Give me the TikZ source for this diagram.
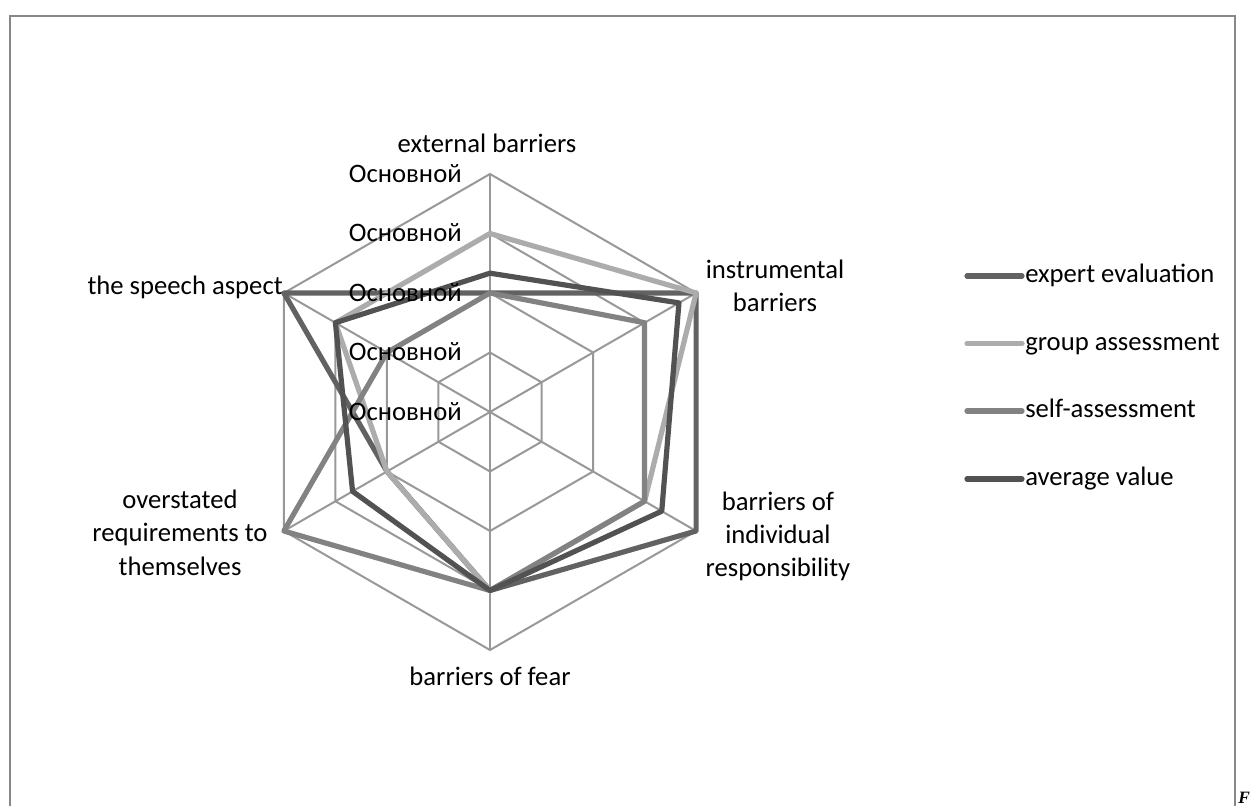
\documentclass[tikz,border=0pt]{standalone}
\usepackage{fontspec}
\setmainfont{Carlito}
\newfontfamily\figfont{Liberation Serif}
\usepackage{tikz}
\usetikzlibrary{calc}
\definecolor{expertcol}{RGB}{98,98,98}
\definecolor{groupcol}{RGB}{172,172,172}
\definecolor{selfcol}{RGB}{130,130,130}
\definecolor{avgcol}{RGB}{82,82,82}
\definecolor{gridcol}{RGB}{152,152,152}
\definecolor{framecol}{RGB}{136,136,136}

\begin{document}
\begin{tikzpicture}[x=0.75pt,y=0.75pt]
    \useasboundingbox (-490,-394) rectangle (762,412);
    \begin{scope}[font=\fontsize{20}{25}\selectfont, inner sep=0pt,
        gridline/.style={gridcol, line width=1.5pt},
        series/.style={line width=3.9pt, line join=round}]

      % defines
      \pgfmathsetmacro\Rad{238} % outer radius
      \pgfmathsetmacro\Lvl{\Rad/4} % one grid step

      % frame of the chart area
      \draw[framecol, line width=2.2pt] (-480,-420) rectangle (745,396);

      % grid hexagons and spokes
      \foreach \k in {1,...,4}
        \draw[gridline] (90:\k*\Lvl) -- (30:\k*\Lvl) -- (-30:\k*\Lvl) -- (-90:\k*\Lvl) -- (-150:\k*\Lvl) -- (150:\k*\Lvl) -- cycle;
      \foreach \a in {90,30,-30,-90,-150,150}
        \draw[gridline] (0,0) -- (\a:\Rad);

      % axis labels (base = last line)
      \node[anchor=base] (EXT) at (-3,259) {external barriers};
      \node[anchor=base, align=center] (INS) at (285,100.3) {instrumental\\barriers};
      \node[anchor=base, align=center] (IND) at (288,-164.7) {barriers of\\individual\\responsibility};
      \node[anchor=base] (FEAR) at (0,-273) {barriers of fear};
      \node[anchor=base, align=center] (OVR) at (-310,-163) {overstated\\requirements to\\themselves};
      \node[anchor=base east] (SPE) at (-207,117) {the speech aspect};

      % data lines
      \draw[series, expertcol] (90:2*\Lvl) -- (30:4*\Lvl) -- (-30:4*\Lvl) -- (-90:3*\Lvl) -- (-150:2*\Lvl) -- (150:4*\Lvl) -- cycle;
      \draw[series, groupcol] (90:3*\Lvl) -- (30:4*\Lvl) -- (-30:3*\Lvl) -- (-90:3*\Lvl) -- (-150:2*\Lvl) -- (150:3*\Lvl) -- cycle;
      \draw[series, selfcol] (90:2*\Lvl) -- (30:3*\Lvl) -- (-30:3*\Lvl) -- (-90:3*\Lvl) -- (-150:4*\Lvl) -- (150:2*\Lvl) -- cycle;
      \draw[series, avgcol] (90:2.333*\Lvl) -- (30:3.667*\Lvl) -- (-30:3.333*\Lvl) -- (-90:3*\Lvl) -- (-150:2.667*\Lvl) -- (150:3*\Lvl) -- cycle;

      % value labels on the axis, over the lines
      \foreach \k in {0,...,4}
        \node[anchor=base east] (tick\k) at (-28,{\k*\Lvl-8.3}) {Основной};

      % legend
      \coordinate (LA1) at (477,136);
      \coordinate (LB1) at (532,136);
      \coordinate (LA2) at (477,68.5);
      \coordinate (LB2) at (532,68.5);
      \coordinate (LA3) at (477,1);
      \coordinate (LB3) at (532,1);
      \coordinate (LA4) at (477,-67);
      \coordinate (LB4) at (532,-67);
      \draw[series, line cap=round, expertcol] (LA1) -- (LB1);
      \draw[series, line cap=round, groupcol] (LA2) -- (LB2);
      \draw[series, line cap=round, selfcol] (LA3) -- (LB3);
      \draw[series, line cap=round, avgcol] (LA4) -- (LB4);
      \node[anchor=base west] (LEG1) at (535,129) {expert evaluation};
      \node[anchor=base west] (LEG2) at (535,61.5) {group assessment};
      \node[anchor=base west] (LEG3) at (535,-6) {self-assessment};
      \node[anchor=base west] (LEG4) at (535,-74) {average value};

      % caption letter in the corner
      \node[anchor=base west] (FIG) at (748,-391.5) {\figfont\fontsize{13}{15}\selectfont\textbf{\textit{F}}};

    \end{scope}
  \end{tikzpicture}
\end{document}
